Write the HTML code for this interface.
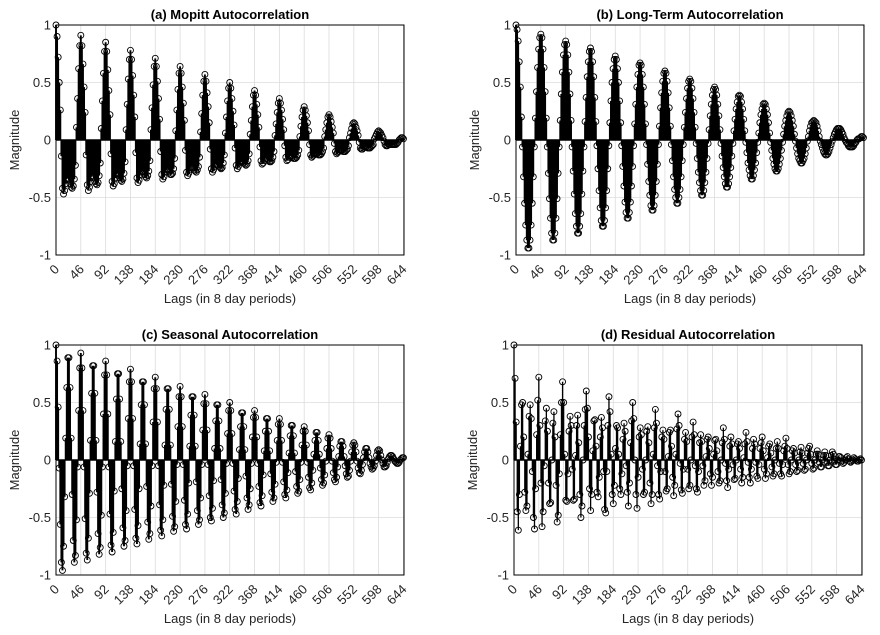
<!DOCTYPE html>
<html><head><meta charset="utf-8"><style>
html,body{margin:0;padding:0;background:#fff;}
svg{display:block;font-family:"Liberation Sans",Arial,sans-serif;}
</style></head><body>
<svg id="fig" width="880" height="635" viewBox="0 0 880 635"></svg>
<script>
// ---- data (values in hundredths, lags sampled every 2 periods) ----
const lagStep = 2;
const xTicks = [0,46,92,138,184,230,276,322,368,414,460,506,552,598,644];
const yTicks = [-1,-0.5,0,0.5,1];
const yTickLabels = ["-1","-0.5","0","0.5","1"];
const titles = ["(a) Mopitt Autocorrelation","(b) Long-Term Autocorrelation","(c) Seasonal Autocorrelation","(d) Residual Autocorrelation"];
const mopittValues = [
100,90,72,50,26,-14,-42,-47,-44,-38,-34,-33,-35,-38,-41,-42,-40,-34,-22,11,36,62,82,
91,82,66,46,24,-13,-39,-44,-41,-36,-32,-31,-33,-36,-38,-39,-37,-31,-20,10,34,58,77,
85,77,61,43,22,-12,-36,-40,-38,-33,-30,-29,-31,-33,-35,-36,-34,-29,-19,9,31,53,70,
78,70,56,39,20,-11,-33,-37,-35,-30,-28,-27,-28,-30,-32,-33,-31,-27,-18,9,28,48,64,
71,64,51,36,18,-10,-30,-34,-32,-28,-26,-25,-26,-28,-30,-30,-29,-25,-16,8,26,44,58,
64,58,46,32,17,-9,-28,-31,-29,-26,-24,-23,-24,-26,-27,-28,-26,-23,-15,7,23,39,51,
57,51,41,29,15,-8,-25,-28,-26,-23,-21,-21,-22,-23,-24,-25,-24,-20,-13,6,20,34,45,
50,45,36,25,13,-7,-22,-25,-23,-20,-19,-18,-19,-20,-21,-22,-21,-18,-12,5,17,29,39,
43,39,31,22,11,-6,-18,-21,-20,-18,-16,-16,-17,-18,-19,-19,-18,-15,-10,4,14,24,32,
36,32,26,18,9,-5,-15,-18,-17,-15,-14,-14,-15,-16,-16,-16,-15,-13,-9,3,12,20,26,
29,26,21,15,8,-4,-13,-15,-14,-13,-12,-12,-12,-13,-13,-13,-12,-10,-7,3,9,15,20,
22,20,16,11,6,-3,-10,-12,-11,-10,-9,-9,-9,-10,-10,-10,-9,-8,-5,2,6,10,14,
15,14,11,8,4,-2,-7,-8,-8,-7,-6,-6,-6,-7,-7,-7,-6,-5,-4,1,3,5,7,
8,7,6,4,2,-1,-4,-5,-5,-4,-4,-4,-4,-4,-4,-4,-4,-3,-2,0,1,2,2,
1];
const longTermValues = [
100,96,86,68,46,20,-6,-32,-55,-74,-87,-94,-94,-87,-74,-55,-32,-6,19,42,63,79,89,
92,89,79,63,42,19,-6,-29,-51,-68,-81,-87,-87,-81,-68,-51,-29,-6,17,40,59,74,83,
86,83,74,59,40,17,-6,-27,-47,-64,-75,-81,-81,-75,-64,-47,-27,-6,16,37,55,68,77,
80,77,68,55,37,16,-5,-25,-44,-59,-70,-75,-75,-70,-59,-44,-25,-5,15,34,50,62,70,
73,70,62,50,34,15,-5,-23,-40,-54,-63,-68,-68,-63,-54,-40,-23,-5,14,31,46,57,65,
67,65,57,46,31,14,-4,-21,-36,-48,-57,-61,-61,-57,-48,-36,-21,-4,12,28,41,51,58,
60,58,51,41,28,12,-4,-18,-32,-43,-50,-55,-55,-50,-43,-32,-18,-4,11,24,36,45,51,
53,51,45,36,24,11,-3,-16,-28,-37,-44,-48,-48,-44,-37,-28,-16,-3,9,21,31,39,44,
46,44,39,31,21,9,-3,-14,-24,-32,-38,-41,-41,-38,-32,-24,-14,-3,8,18,27,33,38,
39,38,33,27,18,8,-2,-11,-20,-26,-31,-34,-34,-31,-26,-20,-11,-2,6,15,22,27,31,
32,31,27,22,15,6,-2,-9,-16,-21,-25,-27,-27,-25,-21,-16,-9,-2,5,12,17,21,24,
25,24,21,17,12,5,-1,-7,-12,-16,-18,-20,-20,-18,-16,-12,-7,-1,3,8,12,15,16,
17,16,15,12,8,3,-1,-4,-7,-10,-12,-13,-13,-12,-10,-7,-4,-1,2,5,7,9,10,
10,10,9,7,5,2,0,-2,-3,-5,-6,-6,-6,-6,-5,-3,-2,0,1,1,2,3,3,
2];
const seasonalValues = [
100,86,46,-7,-56,-89,-96,-75,-32,19,63,89,89,63,19,-30,-70,-89,-83,-52,-6,43,80,
93,80,43,-6,-51,-81,-87,-68,-29,17,58,82,82,58,17,-28,-64,-82,-76,-48,-6,40,74,
86,74,40,-6,-47,-74,-80,-63,-27,16,53,75,75,53,16,-25,-59,-75,-70,-44,-5,36,68,
79,68,36,-5,-43,-68,-73,-57,-25,14,48,68,68,48,14,-23,-54,-69,-64,-40,-5,33,62,
72,62,33,-5,-39,-61,-66,-52,-22,13,44,62,62,44,13,-21,-49,-62,-58,-36,-4,29,55,
64,55,29,-4,-35,-56,-60,-47,-20,12,39,55,55,39,12,-19,-44,-56,-52,-33,-4,26,49,
57,49,26,-4,-31,-50,-53,-42,-18,10,34,48,48,34,10,-17,-39,-50,-46,-29,-3,23,43,
50,43,23,-3,-27,-43,-47,-36,-16,9,29,41,41,29,9,-14,-33,-43,-39,-25,-3,20,37,
43,37,20,-3,-23,-37,-40,-31,-13,8,25,36,36,25,8,-12,-28,-36,-33,-21,-2,17,31,
36,31,17,-2,-19,-30,-33,-26,-11,6,21,30,30,21,6,-10,-23,-29,-27,-17,-2,13,25,
29,25,13,-2,-15,-24,-26,-20,-9,5,17,24,24,17,5,-7,-17,-22,-20,-13,-1,10,19,
22,19,10,-1,-11,-17,-19,-15,-6,3,12,16,16,12,3,-5,-12,-15,-14,-9,-1,7,13,
15,13,7,-1,-7,-11,-12,-9,-4,2,7,10,10,7,2,-3,-6,-8,-7,-5,-1,4,8,
9,8,4,0,-3,-6,-6,-5,-2,1,3,4,4,3,1,-1,-2,-3,-3,-2,0,1,2,
2];
const residualValues = [
100,71,33,-45,-61,-30,12,48,50,20,-28,-44,-40,5,38,48,36,-10,-50,-60,-25,22,52,72,30,-20,-58,-45,-5,34,45,25,-20,-38,-37,0,32,42,20,-22,-54,-48,-12,22,50,68,50,5,-35,-36,-12,25,38,30,-8,-35,-34,4,30,39,15,-30,-50,-40,0,30,44,60,45,20,-25,-44,-30,8,34,35,12,-28,-32,-15,20,37,28,-10,-43,-46,-10,30,55,42,5,-30,-38,
-22,10,30,28,5,-25,-30,-12,18,32,25,-5,-28,-40,-20,15,34,50,36,0,-30,-42,-15,20,28,22,-8,-30,-28,0,25,29,15,-20,-38,-30,5,28,44,32,-5,-30,-34,-10,20,26,18,-10,-27,-25,3,24,26,12,-15,-31,-22,5,27,40,30,-3,-26,-29,-8,18,24,16,-8,-25,-22,0,20,33,22,-5,-25,-28,-10,15,22,16,-5,-22,-18,3,18,20,10,-12,-22,-15,5,17,18,8,-10,-20,-18,0,15,28,18,-3,-18,-24,-8,12,20,14,-4,-17,-16,0,14,16,10,-8,-20,-15,2,14,24,16,-2,-15,-20,-8,10,18,14,-2,-14,-16,-4,10,15,20,8,-8,-16,-12,2,12,14,6,-6,-14,-12,0,10,16,10,-3,-12,-14,-4,8,12,19,10,-4,-12,-10,0,8,10,6,-4,-10,-9,0,7,11,6,-3,-9,-8,0,6,10,12,5,-3,-8,-7,0,5,8,5,-2,-6,-6,0,4,7,4,-2,-5,-5,0,4,7,5,-1,-4,-4,0,3,3,2,-1,-3,-2,0,2,3,1,-1,-2,-1,0,2,1,0,-1,-1,0,1,0];
const seriesList = [mopittValues, longTermValues, seasonalValues, residualValues];
const panelNames = ["mopitt","long-term","seasonal","residual"];

// ---- layout ----
const NS = "http://www.w3.org/2000/svg";
const svg = document.getElementById("fig");
const boxes = [
  {x0:56,x1:404,y0:25,y1:255,sw:1.9},
  {x0:516,x1:864,y0:25,y1:255,sw:1.9},
  {x0:56,x1:404,y0:345,y1:575,sw:1.9},
  {x0:514,x1:862,y0:345,y1:575,sw:1.3}
];
const xMax = 645;
function mk(tag, attrs, parent){
  const e = document.createElementNS(NS, tag);
  for (const k in attrs) e.setAttribute(k, attrs[k]);
  (parent||svg).appendChild(e);
  return e;
}
boxes.forEach((b, p) => {
  const g = mk("g", {});
  
  
  const sx = v => b.x0 + (v / xMax) * (b.x1 - b.x0);
  const sy = v => b.y1 - ((v + 1) / 2) * (b.y1 - b.y0);
  xTicks.forEach(t => {
    const l = mk("line", {x1:sx(t), x2:sx(t), y1:b.y0, y2:b.y1, stroke:"#dcdcdc", "stroke-width":0.8}, g);
    
    
  });
  yTicks.forEach(t => {
    const l = mk("line", {x1:b.x0, x2:b.x1, y1:sy(t), y2:sy(t), stroke:"#dcdcdc", "stroke-width":0.8}, g);
    
    
  });
  const data = seriesList[p];
  const sg = mk("g", {}, g);
  
  
  let d = "";
  data.forEach((v, i) => {
    const x = sx(i * lagStep), y = sy(v / 100);
    d += "M" + x.toFixed(2) + " " + sy(0).toFixed(2) + "V" + y.toFixed(2);
  });
  const stemPath = mk("path", {d:d, stroke:"#000", "stroke-width":b.sw, fill:"none"}, sg);
  
  
  data.forEach((v, i) => {
    const c = mk("circle", {cx:sx(i * lagStep), cy:sy(v / 100), r:3, fill:"none", stroke:"#000", "stroke-width":0.9}, sg);
    
    
  });
  const base = mk("line", {x1:b.x0, x2:b.x1, y1:sy(0), y2:sy(0), stroke:"#000", "stroke-width":1.4}, g);
  
  
  const box = mk("rect", {x:b.x0, y:b.y0, width:b.x1 - b.x0, height:b.y1 - b.y0, fill:"none", stroke:"#000", "stroke-width":1}, g);
  
  
  yTicks.forEach((t, i) => {
    const tx = mk("text", {x:b.x0 - 5, y:sy(t) + 4.5, "text-anchor":"end", "font-size":13, fill:"#262626"}, g);
    tx.textContent = yTickLabels[i];
    
    
  });
  xTicks.forEach(t => {
    const x = sx(t), y = b.y1 + 6;
    const tx = mk("text", {x:x + 4, y:y + 9, "text-anchor":"end", "font-size":13, fill:"#262626",
      transform:"rotate(-45 " + (x + 4) + " " + (y + 9) + ")"}, g);
    tx.textContent = String(t);
    
    
  });
  const ti = mk("text", {x:(b.x0 + b.x1) / 2, y:b.y0 - 6, "text-anchor":"middle", "font-size":13, "font-weight":"bold", fill:"#000"}, g);
  ti.textContent = titles[p];
  
  
  const xl = mk("text", {x:(b.x0 + b.x1) / 2, y:b.y1 + 48, "text-anchor":"middle", "font-size":13, fill:"#262626"}, g);
  xl.textContent = "Lags (in 8 day periods)";
  
  
  const yx = b.x0 - 37, yy = (b.y0 + b.y1) / 2;
  const yl = mk("text", {x:yx, y:yy, "text-anchor":"middle", "font-size":13, fill:"#262626", transform:"rotate(-90 " + yx + " " + yy + ")"}, g);
  yl.textContent = "Magnitude";
  
  
});
</script>
</body></html>
